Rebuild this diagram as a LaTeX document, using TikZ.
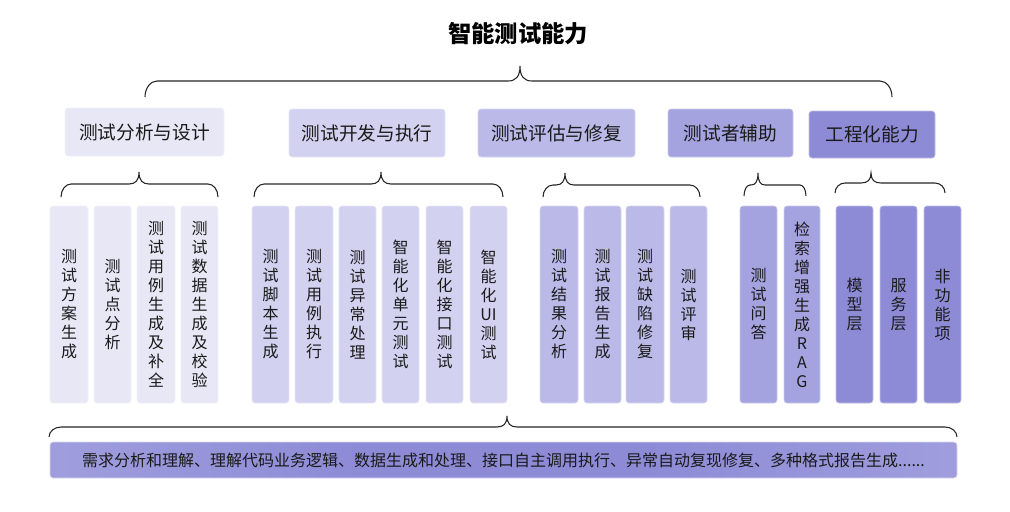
\documentclass[tikz,border=0pt]{standalone}
\usepackage{fontspec}
\setmainfont{Noto Sans CJK SC}
\definecolor{cA}{HTML}{E8E7F6}
\definecolor{cB}{HTML}{D2D1F0}
\definecolor{cC}{HTML}{BAB9E8}
\definecolor{cD}{HTML}{A4A2DF}
\definecolor{cE}{HTML}{8D8BD6}
\definecolor{txt}{HTML}{1A1A1A}
\pgfdeclarehorizontalshading{barshade}{100bp}{color(0bp)=(cC); color(42bp)=(cE); color(58bp)=(cE); color(100bp)=(cC)}
\newcommand{\brc}[8]{%
  \draw[bracestyle] (#1,#6) .. controls (#1,{#5+0.45*(#6-#5)}) and ({#1+0.45*#7},#5) .. ({#1+#7},#5)
    -- ({#2-#8},#5) .. controls ({#2-0.35*#8},#5) and (#2,{#5-0.3*(#5-#4)}) .. (#2,#4)
    .. controls (#2,{#5-0.3*(#5-#4)}) and ({#2+0.35*#8},#5) .. ({#2+#8},#5)
    -- ({#3-#7},#5) .. controls ({#3-0.45*#7},#5) and (#3,{#5+0.45*(#6-#5)}) .. (#3,#6);}
\newcommand{\vb}[5]{%
  \node[vbox=#4, minimum width={(#3-#2)*0.75pt}] (#1) at ({(#2+#3)/2},304.5) {#5};}
\newcommand{\cb}[7]{%
  \node[catbox=#6, minimum width={(#3-#2)*0.75pt}, minimum height={(#5-#4)*0.75pt}] (#1) at ({(#2+#3)/2},{(#4+#5)/2}) {#7};}
\begin{document}
\begin{tikzpicture}[x=0.75pt,y=-0.75pt,
  bracestyle/.style={draw=black!85, line width=0.8pt},
  vbox/.style={fill=#1, draw=#1!55!white, line width=0.5pt, rounded corners=2.25pt,
    minimum height={197*0.75pt}, inner sep=0pt, align=center, text=txt,
    font=\fontsize{12}{14.25}\selectfont},
  catbox/.style={fill=#1, draw=#1!55!white, line width=0.5pt, rounded corners=2.25pt,
    inner sep=0pt, text=txt, font=\fontsize{14}{16}\selectfont}]
\useasboundingbox (0,0) rectangle (1010,511);
\fill[white] (0,0) rectangle (1010,511);
% title
\node[font=\fontsize{17.5}{20}\selectfont\bfseries, text=black] (title) at (518,34) {智能测试能力};
% top brace
\brc{145}{520}{892}{66}{81}{97}{12}{12}
% categories
\cb{k1}{65}{224}{108}{156}{cA}{测试分析与设计}
\cb{k2}{289}{445}{109}{157}{cB}{测试开发与执行}
\cb{k3}{478}{635}{109}{157}{cC}{测试评估与修复}
\cb{k4}{668}{793}{109}{157}{cD}{测试者辅助}
\cb{k5}{809}{935}{111}{158}{cE}{工程化能力}
% sub braces
\brc{61}{139}{218}{172}{184}{197}{10}{10}
\brc{254}{381}{503}{172}{184}{197}{10}{10}
\brc{543}{565}{700}{173}{185}{197}{10}{9}
\brc{744}{758}{806}{173}{185}{196}{6}{7}
\brc{835}{871}{945}{173}{183}{193}{10}{10}
% group 1
\vb{a1}{50}{88}{cA}{测\\试\\方\\案\\生\\成}
\vb{a2}{94}{131}{cA}{测\\试\\点\\分\\析}
\vb{a3}{137}{175}{cA}{测\\试\\用\\例\\生\\成\\及\\补\\全}
\vb{a4}{181}{218}{cA}{测\\试\\数\\据\\生\\成\\及\\校\\验}
% group 2
\vb{b1}{252}{289}{cB}{测\\试\\脚\\本\\生\\成}
\vb{b2}{295}{333}{cB}{测\\试\\用\\例\\执\\行}
\vb{b3}{339}{376}{cB}{测\\试\\异\\常\\处\\理}
\vb{b4}{382}{419}{cB}{智\\能\\化\\单\\元\\测\\试}
\vb{b5}{426}{463}{cB}{智\\能\\化\\接\\口\\测\\试}
\vb{b6}{470}{507}{cB}{智\\能\\化\\UI\\测\\试}
% group 3
\vb{c1}{540}{578}{cC}{测\\试\\结\\果\\分\\析}
\vb{c2}{584}{621}{cC}{测\\试\\报\\告\\生\\成}
\vb{c3}{626}{664}{cC}{测\\试\\缺\\陷\\修\\复}
\vb{c4}{670}{707}{cC}{测\\试\\评\\审}
% group 4
\vb{d1}{740}{777}{cD}{测\\试\\问\\答}
\vb{d2}{784}{820}{cD}{检\\索\\增\\强\\生\\成\\R\\A\\G}
% group 5
\vb{e1}{836}{873}{cE}{模\\型\\层}
\vb{e2}{880}{917}{cE}{服\\务\\层}
\vb{e3}{924}{961}{cE}{非\\功\\能\\项}
% bottom brace
\brc{49}{507}{957}{416}{427}{437}{12}{10}
% bottom bar
\node[shading=barshade, draw=cC!55!white, line width=0.5pt, rounded corners=2.25pt,
  minimum width={907*0.75pt}, minimum height={36*0.75pt}, inner sep=0pt, text=txt,
  font=\fontsize{12}{14}\selectfont] (bar) at (503.5,460)
  {需求分析和理解、理解代码业务逻辑、数据生成和处理、接口自主调用执行、异常自动复现修复、多种格式报告生成......};
\end{tikzpicture}
\end{document}
